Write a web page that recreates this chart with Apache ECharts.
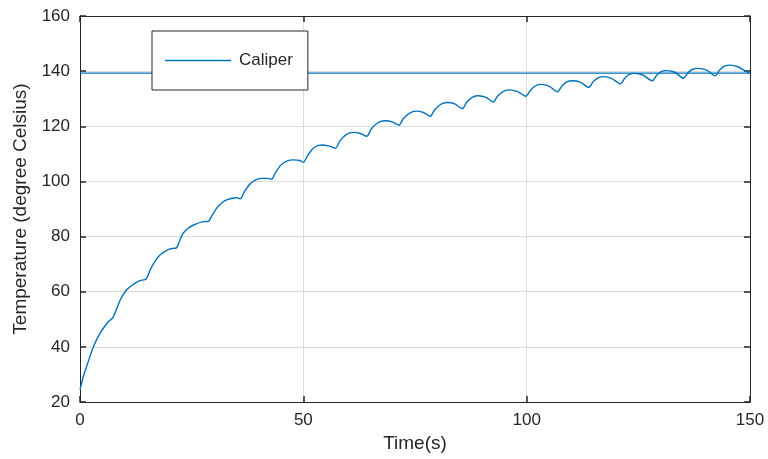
<!DOCTYPE html>
<html>
<head>
<meta charset="utf-8">
<script src="https://cdn.jsdelivr.net/npm/echarts@6/dist/echarts.min.js"></script>
<style>
  html, body { margin: 0; padding: 0; background: #fff; }
  #chart { width: 768px; height: 459px; }
</style>
</head>
<body>
<div id="chart"></div>
<script>
// Caliper temperature response over time (s)
const timeS = [
  0, 0.7, 1.5, 3, 4.5, 6.3, 7.4,
  9, 10.1, 11.2, 13.4, 14.8,
  15.7, 16.8, 17.9, 20.1, 21.6,
  22.3, 23.1, 24.2, 25.4, 27.6, 28.7,
  29.5, 30.6, 31.6, 32.8, 35.1, 35.9,
  36.7, 38, 39.2, 40.5, 42, 42.9,
  43.7, 45, 46.3, 47.8, 49.2, 50,
  51, 52.4, 54.1, 55.8, 57.2,
  58.2, 59.6, 61.2, 62.8, 64.2,
  65.2, 66.6, 68.3, 69.9, 71.4,
  72.4, 73.8, 75.2, 76.9, 78.4,
  79.4, 80.8, 82.1, 83.9, 85.6,
  86.6, 87.9, 89.2, 90.9, 92.5,
  93.5, 94.8, 96.1, 98, 99.8,
  100.8, 102, 103.2, 105, 106.9,
  107.9, 109, 110.2, 112, 113.9,
  114.9, 116, 117.2, 119, 121,
  122, 123, 124.2, 126, 128.1,
  129.1, 130.1, 131.3, 133.2, 135.1,
  136.1, 137.1, 138.4, 140.3, 142.2,
  143.2, 144.3, 145.5, 147.3, 149, 150
];
const caliperTemp = [
  24.5, 29, 33, 40, 45, 49, 50.7,
  57, 60, 61.8, 64, 64.6,
  67.9, 71, 73.3, 75.5, 75.9,
  78.5, 81.2, 83, 84.2, 85.4, 85.5,
  87.5, 90.3, 92, 93.3, 94.1, 93.7,
  96, 99, 100.5, 101.1, 101.1, 100.8,
  103, 106, 107.4, 107.8, 107.6, 106.9,
  109.5, 112.3, 113.2, 112.8, 112.0,
  114.7, 117, 117.8, 117.4, 116.4,
  119, 121.2, 122, 121.6, 120.4,
  122.8, 124.8, 125.5, 125, 123.6,
  126, 128, 128.6, 128.1, 126.4,
  128.8, 130.6, 131.1, 130.5, 128.8,
  131, 132.7, 133.2, 132.6, 130.9,
  133, 134.7, 135.2, 134.6, 132.5,
  134.6, 136.1, 136.5, 136, 134.1,
  136.2, 137.6, 138, 137.4, 135.4,
  137.5, 138.8, 139.2, 138.6, 136.5,
  138.5, 139.8, 140.2, 139.6, 137.4,
  139.4, 140.6, 141, 140.4, 138.3,
  140.4, 141.8, 142.2, 141.6, 140, 139.2
];
// Target temperature level (horizontal line)
const targetTime = [0, 150];
const targetTemp = [139.3, 139.3];

const xTicks = [0, 50, 100, 150];
const yTicks = [20, 40, 60, 80, 100, 120, 140, 160];

const ink = '#262626';
const lineBlue = '#0072BD';
const font = 'Liberation Sans, Arial, sans-serif';

const chart = echarts.init(document.getElementById('chart'));

const baseAxis = {
  axisLine: { show: true, onZero: false, lineStyle: { color: ink, width: 1 } },
  axisTick: { show: true, inside: true, length: 6, lineStyle: { color: ink, width: 1.5 } },
  splitLine: { show: true, lineStyle: { color: '#dcdcdc', width: 1 } },
  axisLabel: { color: ink, fontFamily: font, fontSize: 17 }
};

chart.setOption({
  animation: false,
  backgroundColor: '#ffffff',
  grid: { left: 80, right: 18, top: 16, bottom: 57, containLabel: false },
  legend: {
    data: ['Caliper'],
    left: 152,
    top: 31,
    padding: [21, 15, 21, 13],
    itemWidth: 66,
    itemHeight: 1.4,
    itemGap: 0,
    borderColor: ink,
    borderWidth: 1,
    backgroundColor: '#ffffff',
    icon: 'rect',
    textStyle: { color: ink, fontFamily: font, fontSize: 17, padding: [0, 0, 0, 3] }
  },
  xAxis: [
    Object.assign({}, baseAxis, {
      type: 'value', min: xTicks[0], max: xTicks[xTicks.length - 1], interval: 50,
      name: 'Time(s)', nameLocation: 'middle', nameGap: 32,
      nameTextStyle: { color: ink, fontFamily: font, fontSize: 19 },
      axisLabel: Object.assign({}, baseAxis.axisLabel, { margin: 10 })
    }),
    Object.assign({}, baseAxis, {
      type: 'value', position: 'top', min: 0, max: 150, interval: 50,
      axisLabel: { show: false }, splitLine: { show: false }
    })
  ],
  yAxis: [
    Object.assign({}, baseAxis, {
      type: 'value', min: yTicks[0], max: yTicks[yTicks.length - 1], interval: 20,
      name: 'Temperature (degree Celsius)', nameLocation: 'middle', nameGap: 49,
      nameTextStyle: { color: ink, fontFamily: font, fontSize: 19 },
      axisLabel: Object.assign({}, baseAxis.axisLabel, { margin: 10 })
    }),
    Object.assign({}, baseAxis, {
      type: 'value', position: 'right', min: 20, max: 160, interval: 20,
      axisLabel: { show: false }, splitLine: { show: false }
    })
  ],
  series: [
    {
      name: 'Target',
      type: 'line',
      data: targetTime.map((t, i) => [t, targetTemp[i]]),
      showSymbol: false,
      lineStyle: { color: lineBlue, width: 1.3 },
      itemStyle: { color: lineBlue },
      z: 2
    },
    {
      name: 'Caliper',
      type: 'line',
      data: timeS.map((t, i) => [t, caliperTemp[i]]),
      showSymbol: false,
      smooth: 0.25,
      lineStyle: { color: lineBlue, width: 1.4 },
      itemStyle: { color: lineBlue },
      z: 3
    }
  ]
});
</script>
</body>
</html>
